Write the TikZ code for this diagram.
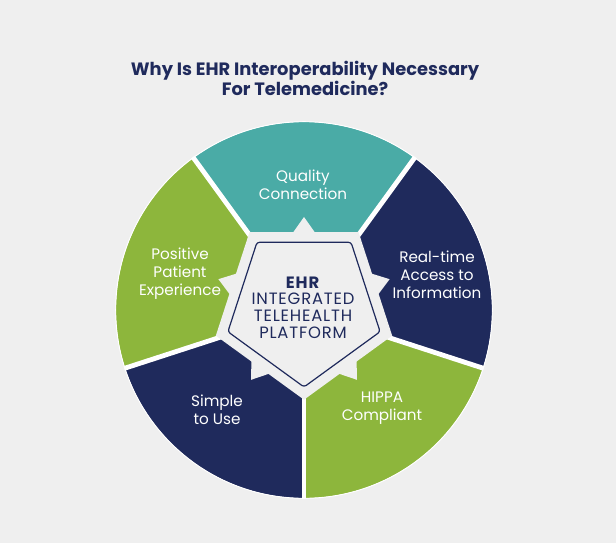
\documentclass[tikz,border=0pt]{standalone}
\usepackage{fontspec}
\setmainfont{Poppins}
\newfontfamily\hubfont[LetterSpace=5]{Poppins}
\usetikzlibrary{positioning,calc}
\definecolor{bggray}{RGB}{239,239,239}
\definecolor{tealseg}{RGB}{74,171,166}
\definecolor{greenseg}{RGB}{141,182,60}
\definecolor{navyseg}{RGB}{31,42,92}

\begin{document}
\begin{tikzpicture}[x=0.75pt,y=0.75pt]
\tikzset{
  TT/.style={text=navyseg,font=\fontsize{13.4}{15}\selectfont\bfseries,align=center,inner sep=0pt},
  TX/.style={text=white,font=\fontsize{11.4}{13.4}\selectfont,align=center,inner sep=0pt},
  CT/.style={text=navyseg,font=\hubfont\fontsize{12.3}{12.4}\selectfont,align=center,inner sep=0pt},
  GP/.style={draw=white,line width=3.6pt},
  CUT/.style={fill=bggray},
}

\fill[bggray](0,0) rectangle (616,543);
\coordinate(c)  at (304,233);
\coordinate(pc) at (304,236);

% the five sectors
\fill[tealseg] (c)--++(54:188)  arc[start angle=54, end angle=126,radius=188]--cycle;
\fill[greenseg](c)--++(126:188) arc[start angle=126,end angle=198,radius=188]--cycle;
\fill[navyseg] (c)--++(198:188) arc[start angle=198,end angle=270,radius=188]--cycle;
\fill[greenseg](c)--++(270:188) arc[start angle=270,end angle=342,radius=188]--cycle;
\fill[navyseg] (c)--++(342:188) arc[start angle=342,end angle=414,radius=188]--cycle;

\foreach \a in {54,126,198,270,342}
  \draw[GP](c)--++(\a:189);
\draw[white,line width=0.7pt](c) circle[radius=188.3];

% centre cut-out with notches
\fill[CUT,shift={(pc)}](54:92.7)--(126:92.7)--(198:92.7)--(270:92.7)--(342:92.7)--cycle;
\foreach \a in {18,90,162,234,306}
  \fill[CUT,shift={(pc)},rotate=\a](73,12)--(90,0)--(73,-12)--cycle;

\draw[navyseg,line width=0.9pt,rounded corners=2pt,fill=bggray,shift={(pc)}]
  (54:80)--(126:80)--(198:80)--(270:80)--(342:80)--cycle;

\node[TT](title) at (305,465){Why Is EHR Interoperability Necessary\\For Telemedicine?};

\node[TX](qc)  at (303,358){Quality\\Connection};
\node[TX](rta) at (437,268){Real-time\\Access to\\Information};
\node[TX](ppe) at (180,269){Positive\\Patient\\Experience};
\node[TX](stu) at (217,133){Simple\\to Use};
\node[TX](hip) at (382,135){HIPPA\\Compliant};

\node[CT](ehr) at (303,235.5){\textbf{EHR}\\INTEGRATED\\TELEHEALTH\\PLATFORM};

\end{tikzpicture}
\end{document}
